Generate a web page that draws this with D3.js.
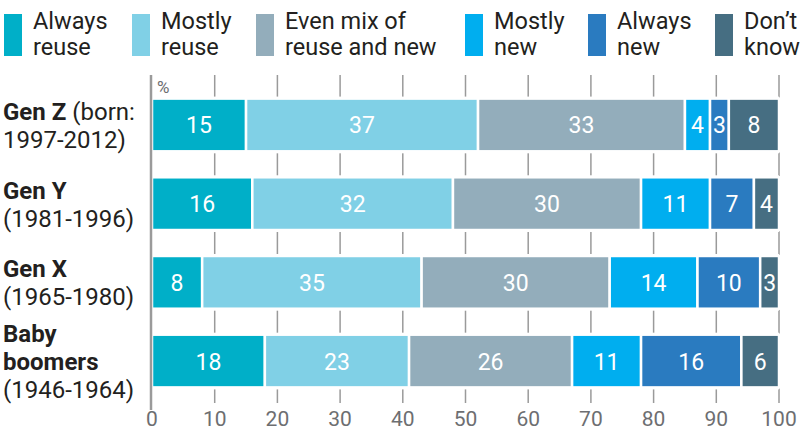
<!DOCTYPE html>
<html>
<head>
<meta charset="utf-8">
<script src="https://cdn.jsdelivr.net/npm/d3@7"></script>
<style>
  body { margin: 0; background: #fff; }
  text { font-family: Roboto, "Open Sans", sans-serif; }
</style>
</head>
<body>
<script>
// categories (legend order) and colors
var categories = ['Always reuse', 'Mostly reuse', 'Even mix of reuse and new', 'Mostly new', 'Always new', "Don't know"];
var legendLines = [['Always', 'reuse'], ['Mostly', 'reuse'], ['Even mix of', 'reuse and new'], ['Mostly', 'new'], ['Always', 'new'], ['Don\u2019t', 'know']];
var colors = ['#00afc8', '#80d0e6', '#93adbb', '#00aeef', '#2a7bc0', '#466e82'];

var groups = ['Gen Z', 'Gen Y', 'Gen X', 'Baby boomers'];
// row label lines: [bold part, regular part] per line
var groupLabels = [
  [['Gen Z', ' (born:'], ['', '1997-2012)']],
  [['Gen Y', ''], ['', '(1981-1996)']],
  [['Gen X', ''], ['', '(1965-1980)']],
  [['Baby', ''], ['boomers', ''], ['', '(1946-1964)']]
];

// values per series, one per group
var alwaysReuse = [15, 16, 8, 18];
var mostlyReuse = [37, 32, 35, 23];
var evenMix = [33, 30, 30, 26];
var mostlyNew = [4, 11, 14, 11];
var alwaysNew = [3, 7, 10, 16];
var dontKnow = [8, 4, 3, 6];
var series = [alwaysReuse, mostlyReuse, evenMix, mostlyNew, alwaysNew, dontKnow];

var xTicks = [0, 10, 20, 30, 40, 50, 60, 70, 80, 90, 100];

var width = 800, height = 432;
var svg = d3.select('body').append('svg')
    .attr('width', width)
    .attr('height', height);

var x = d3.scaleLinear().domain([0, 100]).range([152, 779]);
var y = d3.scaleBand().domain(groups).range([86, 400]).paddingInner(0.33).paddingOuter(0.16);

// legend
var legendX = [4, 132, 256, 465, 588, 715];
var legend = svg.append('g').selectAll('g')
    .data(categories)
    .join('g')
    .attr('transform', (d, i) => `translate(${legendX[i]},0)`);
legend.append('rect')
    .attr('x', 0).attr('y', 14)
    .attr('width', 18).attr('height', 42)
    .attr('fill', (d, i) => colors[i]);
legend.each(function (d, i) {
  var g = d3.select(this);
  legendLines[i].forEach((line, j) => {
    g.append('text')
      .attr('x', 29)
      .attr('y', 29 + j * 26)
      .attr('font-size', 23.5)
      .attr('fill', '#231f20')
      .text(line);
  });
});

// ticks (drawn behind bars so they show in gaps)
var tickG = svg.append('g');
xTicks.forEach(t => {
  if (t === 0) return;
  tickG.append('line')
    .attr('x1', x(t)).attr('x2', x(t))
    .attr('y1', 75).attr('y2', 403)
    .attr('stroke', '#9a9a9a').attr('stroke-width', 1.5);
});

// stacked bars
var stacked = groups.map((g, gi) => {
  var acc = 0;
  return series.map((s, si) => {
    var d = { group: g, si: si, v: s[gi], x0: acc, x1: acc + s[gi] };
    acc += s[gi];
    return d;
  });
});

// white backgrounds to hide ticks behind bars
svg.append('g').selectAll('rect')
    .data(groups)
    .join('rect')
    .attr('x', x(0)).attr('width', x(100) - x(0))
    .attr('y', d => y(d) - 2).attr('height', y.bandwidth() + 4)
    .attr('fill', '#fff');

var barG = svg.append('g');
stacked.forEach(row => {
  var rg = barG.append('g');
  rg.selectAll('rect')
    .data(row)
    .join('rect')
    .attr('x', d => x(d.x0))
    .attr('width', d => x(d.x1) - x(d.x0))
    .attr('y', d => y(d.group))
    .attr('height', y.bandwidth())
    .attr('fill', d => colors[d.si])
    .attr('stroke', '#fff')
    .attr('stroke-width', 2.5);
  rg.selectAll('text')
    .data(row)
    .join('text')
    .attr('x', d => (x(d.x0) + x(d.x1)) / 2)
    .attr('y', d => y(d.group) + y.bandwidth() / 2 + 8.5)
    .attr('text-anchor', 'middle')
    .attr('font-size', 23)
    .attr('fill', '#fff')
    .text(d => d.v);
});

// vertical axis line
svg.append('line')
    .attr('x1', 151).attr('x2', 151)
    .attr('y1', 75).attr('y2', 410)
    .attr('stroke', '#9a9a9a').attr('stroke-width', 2.5);

svg.append('text')
    .attr('x', 157).attr('y', 93)
    .attr('font-size', 17)
    .attr('fill', '#6d6e71')
    .text('%');

// x tick labels
svg.append('g').selectAll('text')
    .data(xTicks)
    .join('text')
    .attr('x', d => x(d))
    .attr('y', 426)
    .attr('text-anchor', 'middle')
    .attr('font-size', 21)
    .attr('fill', '#6d6e71')
    .text(d => d);

// row labels
var labelG = svg.append('g');
groups.forEach((g, gi) => {
  var lines = groupLabels[gi];
  var cy = y(g) + y.bandwidth() / 2;
  var lh = 28;
  var top = cy - (lines.length - 1) * lh / 2 + 9;
  lines.forEach((ln, j) => {
    var t = labelG.append('text')
      .attr('x', 3)
      .attr('y', top + j * lh)
      .attr('font-size', 24)
      .attr('fill', '#231f20');
    if (ln[0]) t.append('tspan').attr('font-weight', 'bold').text(ln[0]);
    if (ln[1]) t.append('tspan').text(ln[1]);
  });
});
</script>
</body>
</html>
